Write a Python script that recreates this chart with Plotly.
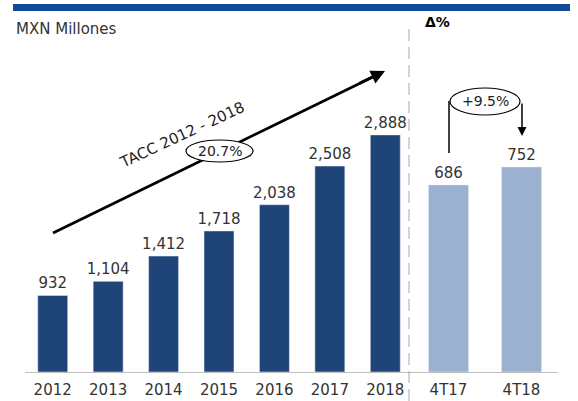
import plotly.graph_objects as go

# ---- data ----
years = ['2012', '2013', '2014', '2015', '2016', '2017', '2018']
annual = [932, 1104, 1412, 1718, 2038, 2508, 2888]
quarters = ['4T17', '4T18']
quarterly = [686, 752]

unit_title = 'MXN Millones'
delta_title = 'Δ%'
cagr_label = 'TACC 2012 - 2018'
cagr_value = '20.7%'
qoq_value = '+9.5%'

W, H = 578, 401
FONT = 'DejaVu Sans'
TXT = '#333333'
DARK = '#1f4478'
LIGHT = '#9cb0d0'


def px(x):
    return x / W


def py(y):
    return 1 - y / H


fig = go.Figure()
fig.add_trace(go.Bar(
    x=years, y=annual, xaxis='x', yaxis='y', marker_color=DARK, width=0.54,
    texttemplate='%{y:,}', textposition='outside', cliponaxis=False, constraintext='none',
    textfont=dict(family=FONT, size=15, color=TXT), hoverinfo='skip'))
fig.add_trace(go.Bar(
    x=quarters, y=quarterly, xaxis='x2', yaxis='y2', marker_color=LIGHT, width=0.55,
    texttemplate='%{y:,}', textposition='outside', cliponaxis=False, constraintext='none',
    textfont=dict(family=FONT, size=15, color=TXT), hoverinfo='skip'))

ybot = py(372)
ytop = py(40)
axis_common = dict(showline=True, linecolor='#bfbfbf', linewidth=1, ticks='',
                   showgrid=False, zeroline=False, fixedrange=True, ticklabelstandoff=4,
                   tickfont=dict(family=FONT, size=15, color=TXT))

fig.update_layout(
    width=W, height=H, margin=dict(l=0, r=0, t=0, b=0),
    paper_bgcolor='white', plot_bgcolor='white', showlegend=False,
    font=dict(family=FONT, color=TXT),
    xaxis=dict(domain=[px(25), px(413)], anchor='y', type='category', **axis_common),
    xaxis2=dict(domain=[px(412), px(558)], anchor='y2', type='category', **axis_common),
    yaxis=dict(domain=[ybot, ytop], range=[0, 332 * 12.18], visible=False, fixedrange=True),
    yaxis2=dict(domain=[ybot, ytop], range=[0, 332 * 3.668], visible=False, fixedrange=True),
)

shapes = [
    # top band
    dict(type='rect', xref='paper', yref='paper', x0=px(13), x1=px(570), y0=py(4), y1=py(11),
         fillcolor='#124b95', line=dict(width=0), layer='above'),
    # dashed separator
    dict(type='line', xref='paper', yref='paper', x0=px(409), x1=px(409), y0=py(29), y1=py(401),
         line=dict(color='#a6a6a6', width=1, dash='12px,6px'), layer='above'),
    # trend line
    dict(type='line', xref='paper', yref='paper', x0=px(53), y0=py(233), x1=px(380), y1=py(73.5),
         line=dict(color='black', width=2.8), layer='above'),
    # ellipse for CAGR
    dict(type='circle', xref='paper', yref='paper', x0=px(186), x1=px(253), y0=py(140), y1=py(162),
         line=dict(color='black', width=1.2), fillcolor='white', layer='above'),
    # bracket left leg
    dict(type='line', xref='paper', yref='paper', x0=px(449), x1=px(449), y0=py(153), y1=py(101),
         line=dict(color='black', width=1.5), layer='above'),
    # ellipse for qoq
    dict(type='circle', xref='paper', yref='paper', x0=px(450), x1=px(520), y0=py(88), y1=py(115),
         line=dict(color='black', width=1.2), fillcolor='white', layer='above'),
]
fig.update_layout(shapes=shapes)

annotations = [
    dict(text=unit_title, xref='paper', yref='paper', x=px(14), y=py(29), xanchor='left',
         yanchor='middle', showarrow=False, font=dict(family=FONT, size=15, color=TXT)),
    dict(text='<b>' + delta_title + '</b>', xref='paper', yref='paper', x=px(437), y=py(22),
         xanchor='center', yanchor='middle', showarrow=False,
         font=dict(family=FONT, size=14, color='black')),
    dict(text=cagr_label, xref='paper', yref='paper', x=px(182), y=py(135), xanchor='center',
         yanchor='middle', showarrow=False, textangle=-25,
         font=dict(family=FONT, size=15, color='#222222')),
    dict(text=cagr_value, xref='paper', yref='paper', x=px(219.5), y=py(151), xanchor='center',
         yanchor='middle', showarrow=False, font=dict(family=FONT, size=14, color='#222222')),
    # trend arrow head
    dict(text='', xref='paper', yref='paper', x=px(385), y=py(71), ax=-27, ay=13,
         showarrow=True, arrowhead=2, arrowsize=1, arrowwidth=2.8, arrowcolor='black'),
    dict(text=qoq_value, xref='paper', yref='paper', x=px(485), y=py(101.5), xanchor='center',
         yanchor='middle', showarrow=False, font=dict(family=FONT, size=14, color='#222222')),
    # bracket right leg with arrow
    dict(text='', xref='paper', yref='paper', x=px(522), y=py(136), ax=0, ay=-34,
         showarrow=True, arrowhead=2, arrowsize=1.2, arrowwidth=1.5, arrowcolor='black'),
]
fig.update_layout(annotations=annotations)

fig.write_html('out.html', config={'displayModeBar': False, 'staticPlot': True},
               post_script="document.body.style.margin='0px';")
